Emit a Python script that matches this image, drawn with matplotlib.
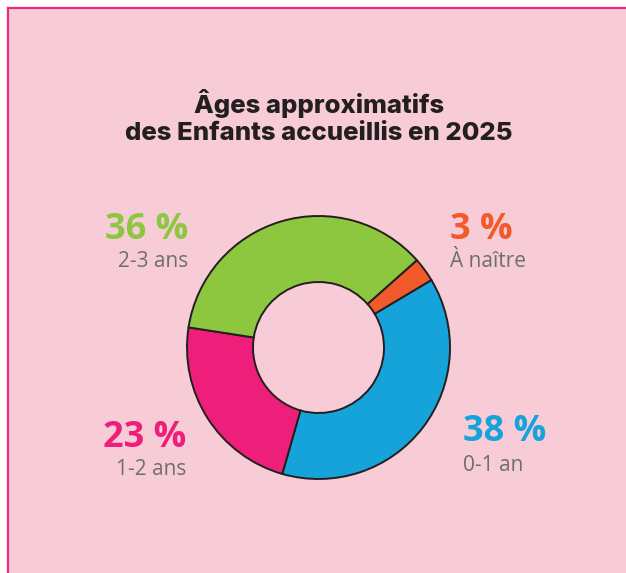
import matplotlib
matplotlib.use("Agg")
import matplotlib.pyplot as plt
from matplotlib.patches import Rectangle

# Data
categories = ["À naître", "0-1 an", "1-2 ans", "2-3 ans"]
values = [3, 38, 23, 36]
pct_labels = ["3 %", "38 %", "23 %", "36 %"]
colors = ["#F15A2B", "#15A3DA", "#EE1F7A", "#8DC63F"]
title_lines = ["Âges approximatifs", "des Enfants accueillis en 2025"]

W, H = 626, 573
fig = plt.figure(figsize=(W / 100, H / 100), dpi=100, facecolor="white")
ax = fig.add_axes([0, 0, 1, 1])

def Y(y):
    return H - y

# background panel
ax.add_patch(Rectangle((7, 0), W - 7, Y(7), facecolor="#F7CCD6", edgecolor="none", zorder=0))
ax.plot([8, 8], [0, Y(8)], color="#EE2A7B", lw=1.6, solid_capstyle="projecting", zorder=1)
ax.plot([8, W], [Y(8), Y(8)], color="#EE2A7B", lw=1.6, solid_capstyle="projecting", zorder=1)

# donut
cx, cy, R = 318.5, 347.5, 131.5
ax.pie(values, colors=colors, startangle=41.6, counterclock=False,
       center=(cx, Y(cy)), radius=R,
       wedgeprops=dict(width=R - 65.5, edgecolor="#231F20", linewidth=1.4))
ax.set_xlim(0, W)
ax.set_ylim(0, H)
ax.axis("off")

# title
tfont = dict(family=["Inter", "DejaVu Sans"], weight="heavy", size=18.5, color="#231F20")
ax.text(319, Y(113), title_lines[0], ha="center", va="baseline", **tfont)
ax.text(319, Y(140), title_lines[1], ha="center", va="baseline", **tfont)

# labels: (x, baseline_pct, baseline_cat, ha)
pos = [
    (450, 239, 267, "left"),
    (463, 441, 471, "left"),
    (186, 447, 475, "right"),
    (188, 239, 267, "right"),
]
for (x, yp, yc, ha), p, c, col in zip(pos, pct_labels, categories, colors):
    ax.text(x, Y(yp), p, ha=ha, va="baseline", color=col, weight="bold",
            size=26, family=["Open Sans", "DejaVu Sans"])
    ax.text(x, Y(yc), c, ha=ha, va="baseline", color="#6D6E71",
            size=15, family=["Open Sans", "DejaVu Sans"])

fig.savefig("out.png", dpi=100, facecolor="white")
